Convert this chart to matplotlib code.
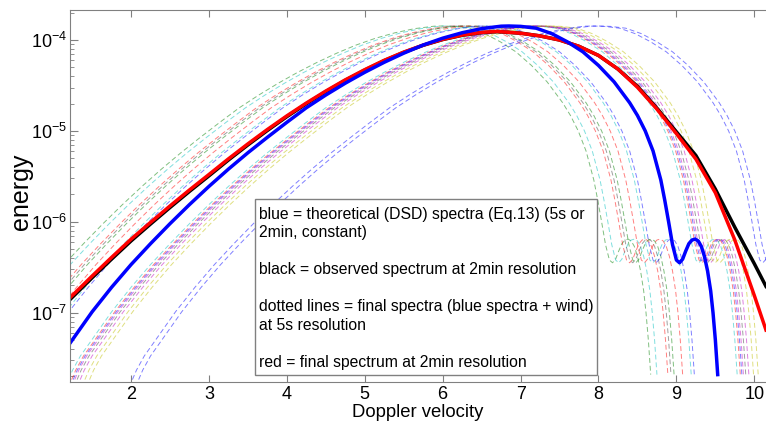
import numpy as np
import matplotlib.pyplot as plt
from matplotlib.patches import Rectangle

plt.rcParams['font.family'] = ['Liberation Sans', 'DejaVu Sans']
plt.rcParams['axes.unicode_minus'] = False

# theoretical (DSD) spectrum, thick blue: velocity and log10(energy)
blue_v = [0.90, 0.92, 0.95, 1.00, 1.10, 1.22, 1.5, 1.75, 2.0, 2.25, 2.5, 2.75,
          3.0, 3.25, 3.5, 3.75, 4.0, 4.25, 4.5, 4.75, 5.0, 5.25, 5.5, 5.75,
          6.0, 6.25, 6.5, 6.75, 6.85, 7.0, 7.2, 7.4, 7.6, 7.8, 8.0, 8.2, 8.4,
          8.5, 8.6, 8.7, 8.8, 8.85, 8.9, 8.95, 9.0, 9.04, 9.08, 9.12, 9.16,
          9.2, 9.24, 9.28, 9.32, 9.36, 9.40, 9.44, 9.47, 9.50, 9.53]
blue_log = [-8.30, -7.85, -7.73, -7.63, -7.475, -7.33, -6.99, -6.72, -6.47,
            -6.24, -6.02, -5.81, -5.61, -5.42, -5.24, -5.07, -4.905, -4.745,
            -4.605, -4.475, -4.355, -4.245, -4.145, -4.055, -3.98, -3.92, -3.875,
            -3.848, -3.846, -3.85, -3.87, -3.93, -4.02, -4.13, -4.28, -4.46,
            -4.69, -4.83, -5.00, -5.22, -5.54, -5.76, -6.00, -6.25, -6.42, -6.45,
            -6.41, -6.32, -6.24, -6.20, -6.19, -6.21, -6.27, -6.38, -6.54, -6.76,
            -7.00, -7.30, -7.68]

# final spectrum at 2min resolution (red)
red_v = [1.21, 1.5, 1.75, 2.0, 2.25, 2.5, 2.75, 3.0, 3.25, 3.5, 3.75, 4.0,
         4.25, 4.5, 4.75, 5.0, 5.25, 5.5, 5.75, 6.0, 6.25, 6.5, 6.7, 7.0, 7.25,
         7.5, 7.75, 8.0, 8.25, 8.5, 8.75, 9.0, 9.25, 9.5, 9.75, 10.0, 10.15]
red_log = [-6.840, -6.596, -6.391, -6.191, -6.006, -5.825, -5.649, -5.479,
           -5.307, -5.142, -4.984, -4.834, -4.693, -4.561, -4.438, -4.326,
           -4.223, -4.133, -4.056, -3.993, -3.946, -3.916, -3.906, -3.925,
           -3.955, -4.00, -4.07, -4.17, -4.32, -4.52, -4.76, -5.03, -5.31,
           -5.68, -6.20, -6.81, -7.19]

# observed spectrum at 2min resolution (black)
black_v = [1.21, 1.5, 1.75, 2.0, 2.25, 2.5, 2.75, 3.0, 3.25, 3.5, 3.75, 4.0,
           4.25, 4.5, 4.75, 5.0, 5.25, 5.5, 5.75, 6.0, 6.25, 6.5, 6.7, 7.0, 7.25,
           7.5, 7.75, 8.0, 8.25, 8.5, 8.75, 9.0, 9.25, 9.5, 9.75, 10.0, 10.15]
black_log = [-6.860, -6.615, -6.410, -6.210, -6.024, -5.842, -5.665, -5.494,
             -5.320, -5.154, -4.995, -4.843, -4.701, -4.568, -4.444, -4.331,
             -4.227, -4.136, -4.058, -3.995, -3.948, -3.918, -3.908, -3.925,
             -3.955, -4.00, -4.07, -4.17, -4.32, -4.51, -4.75, -5.01, -5.27,
             -5.64, -6.06, -6.46, -6.71]

# 5s spectra: theoretical spectrum displaced by the wind
wind_shift = [-0.86, -0.78, -0.64, -0.60, -0.56, -0.45, -0.34, -0.30,
              0.25, 0.29, 0.31, 0.33, 0.36, 0.40, 0.46, 0.52, 1.07, 1.15]
shift_color = ['g', 'c', 'r', 'k', 'g', 'r', 'c', 'b',
               'c', 'r', 'b', 'm', 'k', 'm', 'y', 'y', 'b', 'b']

matlab = {'b': (0, 0, 1), 'g': (0, 0.5, 0), 'r': (1, 0, 0), 'c': (0, 0.75, 0.75),
          'm': (0.75, 0, 0.75), 'y': (0.75, 0.75, 0), 'k': (0.25, 0.25, 0.25)}

legend_lines = [
    (218.5, 'blue = theoretical (DSD) spectra (Eq.13) (5s or'),
    (237.3, '2min, constant)'),
    (274.0, 'black = observed spectrum at 2min resolution'),
    (311.0, 'dotted lines = final spectra (blue spectra + wind)'),
    (329.5, 'at 5s resolution'),
    (366.7, 'red = final spectrum at 2min resolution'),
]

W, H = 766, 425
fig = plt.figure(figsize=(W / 100, H / 100), dpi=100)
ax = fig.add_axes([69.5 / W, 1 - 381.7 / H, 1 - 69.5 / W, (381.7 - 10) / H])

bv = np.array(blue_v)
be = 10 ** np.array(blue_log)
for s, c in zip(wind_shift, shift_color):
    ax.plot(bv + s, be, color=matlab[c], lw=0.7, alpha=0.5, dashes=(5, 3))

ax.plot(black_v, 10 ** np.array(black_log), color='black', lw=2.5)
ax.plot(red_v, 10 ** np.array(red_log), color='red', lw=2.5)
ax.plot(blue_v, be, color='blue', lw=2.5)

ax.set_yscale('log')
ax.set_xlim(1.21, 10.15)
ax.set_ylim(10 ** -7.758, 10 ** -3.67)
ax.set_xticks(range(2, 11))
ax.set_yticks([1e-7, 1e-6, 1e-5, 1e-4])

for side in ['left', 'top', 'bottom']:
    ax.spines[side].set_color('#808080')
ax.spines['right'].set_visible(False)
ax.tick_params(axis='both', which='both', direction='in', color='#808080',
               labelsize=13, top=True, right=False)
ax.tick_params(axis='x', which='major', length=5, pad=3)
ax.tick_params(axis='y', which='major', length=6, pad=2)
ax.tick_params(axis='y', which='minor', length=3)
ax.tick_params(axis='x', which='minor', top=False, bottom=False)

ax.set_xlabel('Doppler velocity', fontsize=13.3, labelpad=1)
ax.set_ylabel('energy', fontsize=18)
ax.yaxis.set_label_coords(-0.052, 0.51)

box = Rectangle((255 / W, 1 - 375 / H), (597 - 255) / W, (375 - 199) / H,
                transform=fig.transFigure, facecolor='white', edgecolor='#808080',
                lw=1, zorder=5)
ax.add_patch(box)
for yb, txt in legend_lines:
    fig.text(259 / W, 1 - yb / H, txt, fontsize=11.3, va='baseline', ha='left', zorder=6)

fig.savefig('out.png', dpi=100)
